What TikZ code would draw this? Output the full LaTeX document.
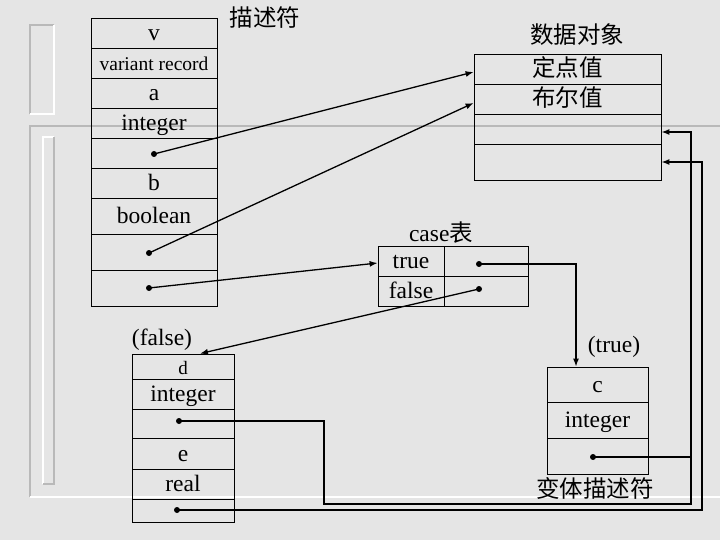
\documentclass[tikz,border=0pt]{standalone}
\usepackage{fontspec}
\setmainfont{Liberation Serif}
\newfontfamily\cjk{Noto Sans CJK SC}
\usetikzlibrary{arrows.meta}
\definecolor{marble}{RGB}{229,229,229}
\definecolor{rim}{RGB}{185,185,185}
\begin{document}
\begin{tikzpicture}[x=1pt,y=-1pt,
  cell/.style 2 args={draw,line width=0.8pt,minimum width=#1,minimum height=#2,inner sep=0pt,text height=18pt,text depth=3pt,font=\fontsize{23.5}{25}\selectfont},
  lbl/.style={inner sep=0pt,font=\fontsize{23.5}{25}\selectfont},
  ptr/.style={line width=1.3pt,-{Latex[length=8pt,width=6pt]}},
  wire/.style={line width=1.1pt}]
\fill[marble] (0,0) rectangle (720,540);
\useasboundingbox (0,0) rectangle (720,540);
\draw[rim,line width=1.2pt] (30,114) -- (30,25) -- (54,25);
\draw[white,line width=1.2pt] (54,25) -- (54,114) -- (30,114);
\draw[rim,line width=1.2pt] (720,126) -- (30,126) -- (30,497);
\draw[white,line width=1.2pt] (30,497) -- (720,497);
\draw[white,line width=1.2pt] (43,484) -- (43,137) -- (54,137);
\draw[rim,line width=1.2pt] (54,137) -- (54,484) -- (43,484);

\node[cell={126}{30}] (v1) at (154,33) {v};
\node[cell={126}{30},font=\fontsize{19.5}{21}\selectfont] (v2) at (154,63) {variant record};
\node[cell={126}{30}] (v3) at (154,93) {a};
\node[cell={126}{30}] (v4) at (154,123) {integer};
\node[cell={126}{30}] (v5) at (154,153) {};
\node[cell={126}{30}] (v6) at (154,183) {b};
\node[cell={126}{36}] (v7) at (154,216) {boolean};
\node[cell={126}{36}] (v8) at (154,252) {};
\node[cell={126}{36}] (v9) at (154,288) {};
\node[lbl] (ms) at (265,18) {\cjk 描述符};

\node[lbl] (sj) at (577,35) {\cjk 数据对象};
\node[cell={187}{30}] (o1) at (567.5,69) {\cjk 定点值};
\node[cell={187}{30}] (o2) at (567.5,99) {\cjk 布尔值};
\node[cell={187}{30}] (o3) at (567.5,129) {};
\node[cell={187}{36}] (o4) at (567.5,162) {};

\node[lbl] (ca) at (441,233) {case\cjk 表};
\node[cell={66}{30}] (t1) at (411,261) {true};
\node[cell={84}{30}] (t2) at (486,261) {};
\node[cell={66}{30}] (t3) at (411,291) {false};
\node[cell={84}{30}] (t4) at (486,291) {};

\node[lbl] (tr) at (614,347) {(true)};
\node[cell={101}{35}] (c1) at (597.5,384.5) {c};
\node[cell={101}{36}] (c2) at (597.5,420) {integer};
\node[cell={101}{36}] (c3) at (597.5,456) {};
\node[lbl] (bt) at (595,488) {\cjk 变体描述符};

\node[lbl] (fa) at (162,340) {(false)};
\node[cell={102}{25},font=\fontsize{19}{20}\selectfont] (d1) at (183,366.5) {d};
\node[cell={102}{30}] (d2) at (183,394) {integer};
\node[cell={102}{29}] (d3) at (183,423.5) {};
\node[cell={102}{31}] (d4) at (183,453.5) {e};
\node[cell={102}{30}] (d5) at (183,484) {real};
\node[cell={102}{23}] (d6) at (183,510.5) {};

\coordinate (p1) at (154,154);
\coordinate (p2) at (149,253);
\coordinate (p3) at (149,288);
\coordinate (q1) at (479,264);
\coordinate (q2) at (479,289);
\coordinate (r1) at (593,457);
\coordinate (s1) at (179,421);
\coordinate (s2) at (177,510);
\coordinate (k1) at (324,504);
\coordinate (k2) at (691,504);
\coordinate (k3) at (702,510);
\foreach \p in {p1,p2,p3,q1,q2,r1,s1,s2} \fill (\p) circle (3pt);

\draw[ptr] (p1) -- ([yshift=-3pt]o1.west);
\draw[ptr] (p2) -- ([yshift=-4pt]o2.west);
\draw[ptr] (p3) -- ([yshift=-2pt]t1.west);
\draw[ptr] (q1) -| ([xshift=-21.5pt]c1.north);
\draw[ptr] (q2) -- ([xshift=17pt]d1.north);
\draw[wire] (r1) -- (r1 -| k2);
\draw[ptr] (s1) -| (k1) -- (k2) |- ([yshift=-3pt]o3.east);
\draw[ptr] (s2) -- (k3) |- (o4.east);
\end{tikzpicture}
\end{document}
